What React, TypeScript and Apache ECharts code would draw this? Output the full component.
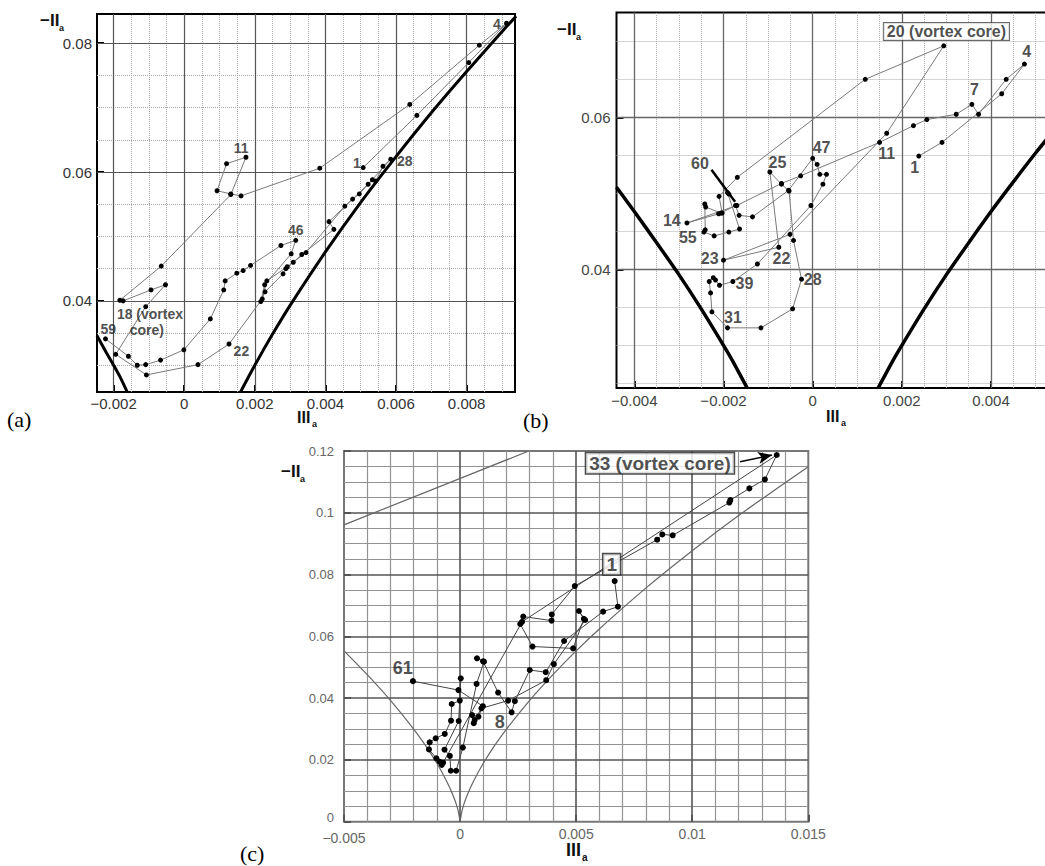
import React, { useEffect, useRef } from 'react';
import * as echarts from 'echarts';

const FONT = '"Liberation Sans", Arial, Helvetica, sans-serif';
const SERIF = '"Liberation Serif", "Times New Roman", serif';

// ---------------- Panel (a) ----------------
const A_X_MAJOR = [-0.002, 0, 0.002, 0.004, 0.006, 0.008];
const A_X_MINOR = [-0.0015, -0.001, -0.0005, 0.0005, 0.001, 0.0015, 0.0025, 0.003, 0.0035, 0.0045, 0.005, 0.0055, 0.0065, 0.007, 0.0075, 0.0085, 0.009];
const A_Y_MAJOR = [0.04, 0.06, 0.08];
const A_Y_MINOR = [0.03, 0.035, 0.045, 0.05, 0.055, 0.065, 0.07, 0.075];
const A_PATH = [
  [0.00507, 0.0607], [0.00659, 0.0688], [0.00806, 0.0770], [0.00913, 0.0831], [0.00836, 0.0797],
  [0.00639, 0.0705], [0.00384, 0.0606], [0.00161, 0.0563], [0.00132, 0.0566], [0.00093, 0.0571],
  [0.00120, 0.0613], [0.00175, 0.0623], [0.00132, 0.0565], [-0.00065, 0.0454], [-0.00182, 0.0401],
  [-0.00173, 0.0400], [-0.00094, 0.0417], [-0.00053, 0.0425], [-0.00109, 0.0391], [-0.00194, 0.0317],
  [-0.00107, 0.0285], [0.00039, 0.0301], [0.00127, 0.0333], [0.00221, 0.0403], [0.00234, 0.0431],
  [0.00292, 0.0453], [0.00345, 0.0475], [0.00455, 0.0547], [0.00521, 0.0581], [0.00585, 0.0620],
  [0.00563, 0.0609], [0.00542, 0.0586], [0.00533, 0.0588], [0.00496, 0.0566], [0.00477, 0.0558],
  [0.00410, 0.0523], [0.00424, 0.0511], [0.00333, 0.0472], [0.00309, 0.0460], [0.00288, 0.0450],
  [0.00280, 0.0442], [0.00229, 0.0414], [0.00217, 0.0399], [0.00228, 0.0425], [0.00303, 0.0473],
  [0.00316, 0.0494], [0.00274, 0.0486], [0.00188, 0.0455], [0.00167, 0.0447], [0.00149, 0.0443],
  [0.00116, 0.0431], [0.00112, 0.0417], [0.00074, 0.0372], [-0.00001, 0.0324], [-0.00067, 0.0308],
  [-0.00109, 0.0301], [-0.00133, 0.0300], [-0.00158, 0.0314], [-0.00223, 0.0341]
];
const A_BOUND_LEFT = [[-0.00247, 0.0346], [-0.0022, 0.0319], [-0.002, 0.0300], [-0.0018, 0.0280], [-0.00162, 0.0259]];
const A_BOUND_RIGHT = [[0.0016, 0.0259], [0.002, 0.0300], [0.0025, 0.0348], [0.003, 0.0393], [0.004, 0.0476], [0.005, 0.0553], [0.006, 0.0624], [0.007, 0.0692], [0.008, 0.0756], [0.009, 0.0818], [0.0094, 0.0842]];
const A_LABELS = [
  [0.00886, 0.0830, '4'], [0.00489, 0.0614, '1'], [0.00625, 0.0617, '28'], [0.00161, 0.0638, '11'],
  [0.00316, 0.0510, '46'], [0.00162, 0.0322, '22'], [-0.00097, 0.0380, '18 (vortex'], [-0.00106, 0.0354, 'core)'],
  [-0.00215, 0.0356, '59']
];

// ---------------- Panel (b) ----------------
const B_X_MAJOR = [-0.004, -0.002, 0, 0.002, 0.004];
const B_X_MINOR = [-0.0035, -0.003, -0.0025, -0.0015, -0.001, -0.0005, 0.0005, 0.001, 0.0015, 0.0025, 0.003, 0.0035, 0.0045, 0.005];
const B_Y_MAJOR = [0.04, 0.06];
const B_Y_MINOR = [0.025, 0.03, 0.035, 0.045, 0.05, 0.055, 0.065, 0.07];
const B_PATH = [
  [0.00238, 0.0549], [0.00290, 0.0567], [0.00424, 0.0631], [0.00475, 0.0670], [0.00434, 0.0650],
  [0.00372, 0.0604], [0.00357, 0.0617], [0.00322, 0.0604], [0.00256, 0.0597], [0.00226, 0.0589],
  [0.00150, 0.0567], [-0.00027, 0.0523], [-0.00070, 0.0513], [-0.00170, 0.0484], [-0.00282, 0.0461],
  [-0.00211, 0.0473], [-0.00203, 0.0474], [-0.00210, 0.0496], [-0.00169, 0.0521], [0.00118, 0.0650],
  [0.00294, 0.0694], [0.00166, 0.0579], [-0.00051, 0.0446], [-0.00200, 0.0412], [-0.00076, 0.0429],
  [-0.00096, 0.0528], [-0.00070, 0.0512], [-0.00053, 0.0503], [-0.00043, 0.0438], [-0.00025, 0.0387],
  [-0.00045, 0.0348], [-0.00116, 0.0323], [-0.00191, 0.0323], [-0.00226, 0.0344], [-0.00229, 0.0369],
  [-0.00232, 0.0384], [-0.00223, 0.0389], [-0.00218, 0.0386], [-0.00209, 0.0379], [-0.00179, 0.0384],
  [-0.00124, 0.0407], [-0.00004, 0.0484], [0.00023, 0.0512], [0.00031, 0.0525], [0.00016, 0.0525],
  [0.00010, 0.0538], [0.00000, 0.0546], [-0.00054, 0.0504], [-0.00135, 0.0469], [-0.00165, 0.0471],
  [-0.00173, 0.0484], [-0.00206, 0.0474], [-0.00240, 0.0482], [-0.00242, 0.0486], [-0.00241, 0.0452],
  [-0.00244, 0.0449], [-0.00221, 0.0444], [-0.00188, 0.0449], [-0.00164, 0.0453], [-0.00191, 0.0501],
  [-0.00188, 0.0499]
];
const B_BOUND_LEFT = [[-0.0044, 0.0508], [-0.004, 0.0476], [-0.0035, 0.0435], [-0.003, 0.0393], [-0.0025, 0.0348], [-0.002, 0.0300], [-0.0018, 0.0280], [-0.00147, 0.0244]];
const B_BOUND_RIGHT = [[0.00147, 0.0244], [0.0018, 0.0280], [0.002, 0.0300], [0.0025, 0.0348], [0.003, 0.0393], [0.0035, 0.0435], [0.004, 0.0476], [0.0045, 0.0515], [0.005, 0.0553], [0.0055, 0.0589]];
const B_LABELS = [
  [0.00480, 0.0687, '4'], [0.00363, 0.0637, '7'], [0.00166, 0.0552, '11'], [0.00229, 0.0534, '1'],
  [0.00020, 0.0560, '47'], [-0.00079, 0.0541, '25'], [-0.00253, 0.0539, '60'], [-0.00316, 0.0464, '14'],
  [-0.00280, 0.0442, '55'], [-0.00231, 0.0414, '23'], [-0.00070, 0.0414, '22'], [-0.00153, 0.0381, '39'],
  [0.00000, 0.0387, '28'], [-0.00179, 0.0337, '31']
];
const B_BOXED = [[0.00300, 0.0713, '20 (vortex core)']];
const B_POINTER = [[-0.00227, 0.0531], [-0.00174, 0.0489]];

// ---------------- Panel (c) ----------------
const C_X_LABELS = [-0.005, 0, 0.005, 0.01, 0.015];
const C_X_MAJOR = [0, 0.005, 0.01];
const C_X_MINOR = [-0.004, -0.003, -0.002, -0.001, 0.001, 0.002, 0.003, 0.004, 0.006, 0.007, 0.008, 0.009, 0.011, 0.012, 0.013, 0.014];
const C_Y_LABELS = [0, 0.02, 0.04, 0.06, 0.08, 0.1, 0.12];
const C_Y_MAJOR = [0.02, 0.04, 0.06, 0.08, 0.1];
const C_Y_MINOR = [0.005, 0.01, 0.015, 0.025, 0.03, 0.035, 0.045, 0.05, 0.055, 0.065, 0.07, 0.075, 0.085, 0.09, 0.095, 0.105, 0.11, 0.115];
const C_PATH = [
  [0.00666, 0.0779], [0.00680, 0.0696], [0.00616, 0.0680], [0.00448, 0.0585], [0.00369, 0.0484],
  [0.00300, 0.0491], [0.00236, 0.0390], [0.00222, 0.0354], [0.00164, 0.0418], [0.00099, 0.0519],
  [0.00073, 0.0529], [0.00103, 0.0518], [0.00071, 0.0446], [0.00012, 0.0240], [-0.00017, 0.0165],
  [-0.00040, 0.0165], [-0.00044, 0.0213], [-0.00067, 0.0233], [-0.00006, 0.0326], [0.00003, 0.0464],
  [-0.00001, 0.0392], [-0.00036, 0.0381], [-0.00039, 0.0327], [-0.00066, 0.0284], [-0.00105, 0.0270],
  [-0.00131, 0.0257], [-0.00134, 0.0234], [-0.00102, 0.0205], [-0.00088, 0.0194], [-0.00079, 0.0184],
  [-0.00073, 0.0191], [0.00267, 0.0647], [0.01364, 0.1187], [0.01313, 0.1108], [0.01246, 0.1079],
  [0.01164, 0.1041], [0.01160, 0.1033], [0.00916, 0.0927], [0.00871, 0.0930], [0.00849, 0.0913],
  [0.00494, 0.0763], [0.00395, 0.0671], [0.00394, 0.0651], [0.00272, 0.0664], [0.00259, 0.0640],
  [0.00312, 0.0567], [0.00487, 0.0561], [0.00533, 0.0657], [0.00512, 0.0682], [0.00539, 0.0653],
  [0.00404, 0.0510], [0.00371, 0.0458], [0.00207, 0.0392], [0.00092, 0.0367], [0.00063, 0.0329],
  [0.00059, 0.0319], [0.00052, 0.0345], [0.00079, 0.0340], [0.00098, 0.0374], [-0.00007, 0.0426],
  [-0.00203, 0.0455]
];
const C_BOUND_LEFT = [[-0.005, 0.0553], [-0.004, 0.0476], [-0.003, 0.0393], [-0.002, 0.0300], [-0.0015, 0.0248], [-0.001, 0.0189], [-0.0006, 0.0134], [-0.0003, 0.0085], [-0.0001, 0.0041], [0, 0]];
const C_BOUND_RIGHT = [[0, 0], [0.0001, 0.0041], [0.0003, 0.0085], [0.0006, 0.0134], [0.001, 0.0189], [0.0015, 0.0248], [0.002, 0.0300], [0.003, 0.0393], [0.004, 0.0476], [0.005, 0.0553], [0.006, 0.0624], [0.008, 0.0756], [0.01, 0.0877], [0.012, 0.0991], [0.015, 0.1149]];
const C_BOUND_TOP = [[-0.005, 0.0961], [0.00296, 0.12]];
const C_LABELS = [[-0.00247, 0.0499, '61'], [0.00171, 0.0324, '8']];
const C_BOXED = [[0.00653, 0.0833, '1'], [0.00861, 0.1160, '33 (vortex core)']];
const C_ARROW = [[0.01206, 0.1165], [0.01344, 0.1187]];

const fmt = (v: number) => (v < 0 ? '\u2212' + String(-v) : String(v));

function valueAxis(gridIndex: number, min: number, max: number, labels: number[], fontSize: number, color: string, margin: number, tickColor: string, extra?: any) {
  return {
    type: 'value', gridIndex, min, max, scale: true,
    axisLine: { show: false, onZero: false },
    axisTick: { show: true, inside: true, length: 7, customValues: labels, lineStyle: { color: tickColor, width: 2 } },
    axisLabel: { show: true, customValues: labels, formatter: fmt, fontSize, color, margin, fontFamily: FONT, showMinLabel: true, showMaxLabel: true, ...(extra || {}) },
    splitLine: { show: false },
    minorTick: { show: false },
    minorSplitLine: { show: false },
  };
}

function gridSeries(idx: number, xMajor: number[], xMinor: number[], yMajor: number[], yMinor: number[], major: any, minor: any) {
  return {
    type: 'line', xAxisIndex: idx, yAxisIndex: idx, data: [], silent: true, z: 1,
    markLine: {
      silent: true, z: 1, precision: 10, symbol: ['none', 'none'], label: { show: false }, animation: false,
      data: [
        ...xMinor.map((v) => ({ xAxis: v, lineStyle: minor })),
        ...yMinor.map((v) => ({ yAxis: v, lineStyle: minor })),
        ...xMajor.map((v) => ({ xAxis: v, lineStyle: major })),
        ...yMajor.map((v) => ({ yAxis: v, lineStyle: major })),
      ],
    },
  };
}

function pathSeries(idx: number, data: number[][], lineColor: string, size: number) {
  return {
    type: 'line', xAxisIndex: idx, yAxisIndex: idx, data, z: 3,
    symbol: 'circle', symbolSize: size, showSymbol: true,
    itemStyle: { color: '#000' }, lineStyle: { color: lineColor, width: 1 },
  };
}

function boundSeries(idx: number, data: number[][], color: string, width: number) {
  return {
    type: 'line', xAxisIndex: idx, yAxisIndex: idx, data, z: 2, smooth: 0.3,
    showSymbol: false, symbol: 'none', lineStyle: { color, width },
  };
}

function labelSeries(idx: number, items: any[], base: any, boxed?: any) {
  return {
    type: 'scatter', xAxisIndex: idx, yAxisIndex: idx, symbolSize: 1, silent: true, z: 6,
    itemStyle: { color: 'rgba(0,0,0,0)' },
    data: items.map((it) => ({ value: [it[0], it[1]], name: it[2] })),
    label: { show: true, position: 'inside', formatter: (p: any) => p.name, fontFamily: FONT, ...base, ...(boxed || {}) },
  };
}

function pointerSeries(idx: number, pts: number[][], arrow: boolean, width: number) {
  return {
    type: 'line', xAxisIndex: idx, yAxisIndex: idx, data: [], silent: true, z: 7,
    markLine: {
      silent: true, z: 7, precision: 10, symbol: ['none', arrow ? 'arrow' : 'none'], symbolSize: arrow ? [9, 14] : 0,
      label: { show: false }, animation: false,
      lineStyle: { color: '#000', width, type: 'solid' },
      data: [[{ coord: pts[0] }, { coord: pts[1] }]],
    },
  };
}

function txt(left: number, top: number, text: string, size: number, family = FONT, weight: any = 'bold', fill = '#111') {
  return { type: 'text', left, top, z: 20, style: { text, fontFamily: family, fontSize: size, fontWeight: weight, fill } };
}

export default function App() {
  const ref = useRef<HTMLDivElement>(null);
  useEffect(() => {
    if (!ref.current) return;
    const chart = echarts.init(ref.current, undefined, { renderer: 'svg' });
    const dottedA = { color: '#a8a8a8', width: 1, type: 'dotted' };
    const solidA = { color: '#555', width: 1.2, type: 'solid' };
    const dottedB = { color: '#aaa', width: 1, type: 'dotted' };
    const solidB = { color: '#666', width: 1.3, type: 'solid' };
    const minorC = { color: '#939393', width: 1.2, type: 'solid' };
    const majorC = { color: '#555', width: 1.6, type: 'solid' };

    const cYExtra = {
      formatter: (v: number) => (v === 0 ? '{z|0}' : fmt(v)),
      rich: { z: { fontSize: 13, color: '#666', fontFamily: FONT, padding: [0, 0, 8, 0] } },
    };
    const cXExtra = {
      formatter: (v: number) => (v === -0.005 ? '{m|' + fmt(v) + '}' : fmt(v)),
      rich: { m: { fontSize: 14, color: '#666', fontFamily: FONT, padding: [4, 0, 0, 0] } },
    };

    const option: any = {
      animation: false,
      backgroundColor: '#ffffff',
      grid: [
        { left: 97, top: 14, width: 418, height: 378, show: true, borderColor: '#000', borderWidth: 2, outerBoundsMode: 'none' },
        { left: 616.5, top: 12.4, width: 441.4, height: 375.5, show: true, borderColor: '#000', borderWidth: 2, outerBoundsMode: 'none' },
        { left: 344, top: 451, width: 464.3, height: 370.7, show: true, borderColor: '#777', borderWidth: 2, outerBoundsMode: 'none' },
      ],
      xAxis: [
        valueAxis(0, -0.00247, 0.00937, A_X_MAJOR, 15, '#333', 4, '#000'),
        valueAxis(1, -0.0044, 0.0055, B_X_MAJOR, 15, '#444', 5, '#000'),
        valueAxis(2, -0.005, 0.015, C_X_LABELS, 14, '#666', 5, '#555', cXExtra),
      ],
      yAxis: [
        valueAxis(0, 0.02585, 0.08454, A_Y_MAJOR, 15, '#333', 5, '#000'),
        valueAxis(1, 0.0244, 0.0738, B_Y_MAJOR, 15, '#444', 6, '#000'),
        valueAxis(2, 0, 0.12, C_Y_LABELS, 13, '#666', 10, '#555', cYExtra),
      ],
      series: [
        gridSeries(0, A_X_MAJOR, A_X_MINOR, A_Y_MAJOR, A_Y_MINOR, solidA, dottedA),
        gridSeries(1, B_X_MAJOR, B_X_MINOR, B_Y_MAJOR, B_Y_MINOR, solidB, dottedB),
        gridSeries(2, C_X_MAJOR, C_X_MINOR, C_Y_MAJOR, C_Y_MINOR, majorC, minorC),
        boundSeries(0, A_BOUND_LEFT, '#000', 3),
        boundSeries(0, A_BOUND_RIGHT, '#000', 3),
        boundSeries(1, B_BOUND_LEFT, '#000', 3.5),
        boundSeries(1, B_BOUND_RIGHT, '#000', 3.5),
        boundSeries(2, C_BOUND_LEFT, '#666', 1.2),
        boundSeries(2, C_BOUND_RIGHT, '#666', 1.2),
        boundSeries(2, C_BOUND_TOP, '#666', 1.2),
        pathSeries(0, A_PATH, '#7a7a7a', 5),
        pathSeries(1, B_PATH, '#7a7a7a', 5),
        pathSeries(2, C_PATH, '#444', 6),
        labelSeries(0, A_LABELS, { fontSize: 14, fontWeight: 'bold', color: '#222' }),
        labelSeries(1, B_LABELS, { fontSize: 16, fontWeight: 'bold', color: '#222' }),
        labelSeries(1, B_BOXED, { fontSize: 16, fontWeight: 'bold', color: '#222' },
          { backgroundColor: '#fff', borderColor: '#444', borderWidth: 1, padding: [1, 3, 0, 3] }),
        labelSeries(2, C_LABELS, { fontSize: 18, fontWeight: 'bold', color: '#222' }),
        labelSeries(2, C_BOXED, { fontSize: 19, fontWeight: 'bold', color: '#222' },
          { backgroundColor: '#fff', borderColor: '#222', borderWidth: 1.5, padding: [1, 3, 0, 3] }),
        pointerSeries(1, B_POINTER, false, 2.5),
        pointerSeries(2, C_ARROW, true, 1.5),
      ],
      graphic: [
        txt(40, 12, '\u2212II', 17), txt(59, 23, 'a', 9),
        txt(297, 409, 'III', 16), txt(312, 419, 'a', 9),
        txt(557, 21, '\u2212II', 17), txt(576, 32, 'a', 9),
        txt(826, 408, 'III', 16), txt(841, 418, 'a', 9),
        txt(281, 463, '\u2212II', 17), txt(300, 474, 'a', 9),
        txt(566, 841, 'III', 18), txt(582, 852, 'a', 10),
        txt(7, 408, '(a)', 22, SERIF, 'normal', '#000'),
        txt(523, 409, '(b)', 22, SERIF, 'normal', '#000'),
        txt(240, 842, '(c)', 22, SERIF, 'normal', '#000'),
      ],
    };
    chart.setOption(option);
    return () => chart.dispose();
  }, []);
  return <div ref={ref} style={{ position: 'absolute', left: 0, top: 0, width: 1045, height: 866, background: '#fff' }} />;
}
